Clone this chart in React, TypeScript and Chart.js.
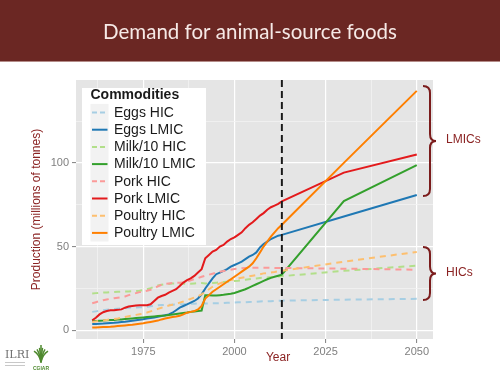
import React, { useEffect, useRef } from "react";
import { Chart, registerables } from "chart.js";

Chart.register(...registerables);

// ---------- data ----------
const TITLE = "Demand for animal-source foods";
const Y_TITLE = "Production (millions of tonnes)";
const X_TITLE = "Year";
const LEGEND_TITLE = "Commodities";

const historyStart = 1961;
const historyEnd = 2013;
const historyYears = Array.from({ length: historyEnd - historyStart + 1 }, (_, i) => historyStart + i);
const projectionYears = [2030, 2050];
const baseYear = 2013;

const seriesNames = [
  "Eggs HIC",
  "Eggs LMIC",
  "Milk/10 HIC",
  "Milk/10 LMIC",
  "Pork HIC",
  "Pork LMIC",
  "Poultry HIC",
  "Poultry LMIC",
];
const seriesColors = ["#a6cee3", "#1f78b4", "#b2df8a", "#33a02c", "#fb9a99", "#e31a1c", "#fdbf6f", "#ff7f00"];
const seriesDashed = [true, false, true, false, true, false, true, false];

const eggsHIC = [
  11.0, 11.3, 11.6, 12.0, 12.3, 12.5, 12.7, 12.9, 13.1, 13.3,
  13.5, 13.6, 13.6, 13.7, 13.8, 14.0, 14.3, 14.6, 14.9, 15.1,
  15.2, 15.2, 15.3, 15.4, 15.5, 15.6, 15.7, 15.8, 15.9, 16.0,
  16.0, 16.0, 16.0, 16.1, 16.1, 16.2, 16.3, 16.4, 16.5, 16.6,
  16.7, 16.8, 16.8, 16.9, 17.0, 17.1, 17.2, 17.3, 17.3, 17.4,
  17.5, 17.6, 17.7,
];
const eggsLMIC = [
  3.8, 3.8, 3.9, 4.0, 4.2, 4.4, 4.5, 4.7, 4.9, 5.1,
  5.4, 5.7, 6.0, 6.3, 6.6, 7.0, 7.3, 7.7, 8.1, 8.5,
  9.0, 9.5, 10.5, 12.0, 13.5, 14.5, 15.5, 16.5, 17.5, 19.0,
  21.5, 25.0, 28.0, 31.0, 33.5, 34.5, 35.5, 36.5, 38.0, 39.0,
  40.0, 41.0, 42.5, 44.0, 45.0, 46.5, 49.5, 51.5, 53.0, 54.5,
  55.5, 56.5, 57.0,
];
const milkHIC = [
  22.0, 22.2, 22.4, 22.5, 22.6, 22.8, 22.9, 23.0, 23.1, 23.2,
  23.2, 23.3, 23.4, 23.6, 24.0, 24.5, 25.2, 26.0, 26.8, 27.2,
  27.5, 27.7, 28.0, 28.0, 27.8, 27.8, 27.7, 27.8, 28.0, 28.2,
  28.2, 28.0, 28.0, 28.2, 28.4, 28.6, 28.8, 29.0, 29.2, 29.4,
  29.6, 29.9, 30.2, 30.5, 30.8, 31.0, 31.3, 31.5, 31.6, 31.8,
  32.0, 32.2, 32.3,
];
const milkLMIC = [
  5.5, 5.6, 5.7, 5.8, 6.0, 6.1, 6.2, 6.4, 6.5, 6.7,
  6.9, 7.1, 7.3, 7.5, 7.7, 7.9, 8.1, 8.3, 8.5, 8.7,
  8.9, 9.2, 9.4, 9.7, 10.0, 10.3, 10.6, 11.0, 11.2, 11.5,
  11.8, 21.0, 21.0, 20.8, 20.8, 21.0, 21.2, 21.5, 21.8, 22.3,
  23.0, 23.8, 24.5, 25.5, 26.5, 27.5, 28.5, 29.5, 30.5, 31.3,
  32.0, 32.6, 33.2,
];
const porkHIC = [
  16.2, 16.8, 17.4, 18.0, 18.4, 18.8, 19.2, 19.5, 19.8, 20.2,
  21.0, 21.6, 22.2, 22.8, 23.2, 23.6, 24.2, 25.2, 26.2, 27.2,
  27.8, 28.0, 28.2, 28.3, 28.4, 28.6, 29.0, 29.8, 30.6, 31.2,
  32.0, 32.6, 33.2, 33.8, 34.4, 35.0, 35.4, 35.8, 36.2, 36.6,
  36.8, 37.0, 37.2, 37.2, 37.3, 37.3, 37.4, 37.4, 37.3, 37.3,
  37.2, 37.2, 37.2,
];
const porkLMIC = [
  6.0, 7.5, 9.5, 10.8, 11.5, 12.0, 12.0, 12.2, 12.5, 13.5,
  14.2, 14.5, 14.8, 15.0, 15.0, 15.0, 15.5, 17.5, 19.5, 20.5,
  21.2, 22.5, 23.5, 24.5, 26.5, 28.5, 30.0, 31.0, 32.5, 34.5,
  36.5, 43.0, 45.0, 47.0, 48.0, 50.0, 51.0, 53.0, 54.5, 55.5,
  57.0, 58.5, 61.0, 63.0, 64.5, 66.5, 68.5, 70.0, 72.0, 73.5,
  74.5, 75.5, 77.0,
];
const poultryHIC = [
  5.0, 5.3, 5.6, 5.9, 6.2, 6.5, 6.8, 7.1, 7.5, 8.0,
  8.4, 8.8, 9.2, 9.6, 10.0, 10.6, 11.3, 12.0, 12.8, 13.5,
  14.2, 14.8, 15.3, 15.8, 16.5, 17.2, 18.0, 18.8, 19.6, 20.4,
  21.5, 23.0, 24.5, 26.0, 27.2, 28.0, 28.8, 29.5, 30.0, 30.5,
  31.0, 31.4, 31.8, 32.2, 32.6, 33.0, 33.5, 34.0, 34.2, 34.5,
  34.8, 35.2, 35.5,
];
const poultryLMIC = [
  1.6, 1.7, 1.8, 1.9, 2.0, 2.1, 2.3, 2.5, 2.7, 2.9,
  3.1, 3.3, 3.6, 3.9, 4.2, 4.6, 5.0, 5.4, 5.8, 6.5,
  7.0, 7.5, 8.0, 8.3, 8.7, 9.5, 10.5, 11.0, 11.5, 12.5,
  14.5, 19.0, 21.0, 23.0, 24.5, 26.0, 27.5, 29.0, 30.5, 32.0,
  33.5, 35.0, 36.5, 38.0, 40.0, 43.0, 46.5, 50.0, 53.0, 56.0,
  58.5, 61.0, 63.0,
];

// projections for 2030, 2050
const eggsHICProj = [18.3, 18.8];
const eggsLMICProj = [68.0, 80.8];
const milkHICProj = [35.5, 38.6];
const milkLMICProj = [77.2, 98.6];
const porkHICProj = [36.8, 36.2];
const porkLMICProj = [94.2, 105.0];
const poultryHICProj = [41.0, 46.8];
const poultryLMICProj = [100.0, 143.0];

const histories = [eggsHIC, eggsLMIC, milkHIC, milkLMIC, porkHIC, porkLMIC, poultryHIC, poultryLMIC];
const projections = [eggsHICProj, eggsLMICProj, milkHICProj, milkLMICProj, porkHICProj, porkLMICProj, poultryHICProj, poultryLMICProj];

const xMajorTicks = [1975, 2000, 2025, 2050];
const xAllTicks = [1962.5, 1975, 1987.5, 2000, 2012.5, 2025, 2037.5, 2050];
const yMajorTicks = [0, 50, 100];
const yAllTicks = [0, 25, 50, 75, 100, 125];

const groupLabels = ["LMICs", "HICs"];

// ---------- styling constants ----------
const DARK_RED = "#8b2323";
const PANEL = "#e5e5e5";

const decorPlugin = {
  id: "decor",
  beforeDraw(chart: any) {
    const { ctx, chartArea } = chart;
    ctx.save();
    ctx.fillStyle = "#ffffff";
    ctx.fillRect(0, 0, chart.width, chart.height);
    // title bar
    ctx.fillStyle = "#6b2723";
    ctx.fillRect(0, 0, chart.width, 62);
    ctx.fillStyle = "#b48c88";
    ctx.fillRect(0, 61, chart.width, 1);
    let size = 26;
    ctx.font = `${size}px Lato`;
    while (ctx.measureText(TITLE).width > 294 && size > 10) {
      size -= 0.5;
      ctx.font = `${size}px Lato`;
    }
    ctx.fillStyle = "#f6e9e6";
    ctx.textAlign = "center";
    ctx.textBaseline = "alphabetic";
    ctx.fillText(TITLE, 250, 38.5);
    // panel
    ctx.fillStyle = PANEL;
    ctx.fillRect(chartArea.left, chartArea.top, chartArea.right - chartArea.left, chartArea.bottom - chartArea.top);
    ctx.restore();
  },
  afterDatasetsDraw(chart: any) {
    const { ctx, chartArea, scales } = chart;
    const x = scales.x.getPixelForValue(baseYear);
    ctx.save();
    ctx.strokeStyle = "#1a1a1a";
    ctx.lineWidth = 2;
    ctx.setLineDash([7, 4]);
    ctx.beginPath();
    ctx.moveTo(x, chartArea.top);
    ctx.lineTo(x, chartArea.bottom);
    ctx.stroke();
    ctx.setLineDash([]);

    // legend
    const lx = 82, ly = 88, lw = 124, lh = 157;
    ctx.fillStyle = "#ffffff";
    ctx.fillRect(lx, ly, lw, lh);
    ctx.fillStyle = "#1a1a1a";
    ctx.font = "bold 14px 'Liberation Sans', Arial, sans-serif";
    ctx.textAlign = "left";
    ctx.textBaseline = "middle";
    ctx.fillText(LEGEND_TITLE, 90.5, 95);
    const step = 17.2;
    const y0 = 112.5;
    ctx.fillStyle = "#f2f2f2";
    ctx.fillRect(90.5, y0 - step / 2, 18, step * 8);
    chart.data.datasets.forEach((ds: any, i: number) => {
      const cy = y0 + i * step;
      ctx.strokeStyle = ds.borderColor;
      ctx.lineWidth = 2;
      ctx.setLineDash(ds.borderDash && ds.borderDash.length ? [5, 3] : []);
      ctx.beginPath();
      ctx.moveTo(92, cy);
      ctx.lineTo(107.5, cy);
      ctx.stroke();
      ctx.setLineDash([]);
      ctx.fillStyle = "#1a1a1a";
      ctx.font = "14px 'Liberation Sans', Arial, sans-serif";
      ctx.fillText(ds.label, 114, cy + 0.5);
    });

    // axis titles
    ctx.fillStyle = DARK_RED;
    ctx.font = "12px 'Liberation Sans', Arial, sans-serif";
    ctx.textAlign = "center";
    ctx.textBaseline = "middle";
    ctx.fillText(X_TITLE, 278, 358);
    ctx.save();
    ctx.translate(36.5, (chartArea.top + chartArea.bottom) / 2);
    ctx.rotate(-Math.PI / 2);
    ctx.fillText(Y_TITLE, 0, 0);
    ctx.restore();

    // braces
    const brace = (top: number, bottom: number, mid: number) => {
      ctx.beginPath();
      ctx.moveTo(423, top);
      ctx.quadraticCurveTo(430, top, 430, top + 7);
      ctx.lineTo(430, mid - 7);
      ctx.quadraticCurveTo(430, mid, 436, mid);
      ctx.quadraticCurveTo(430, mid, 430, mid + 7);
      ctx.lineTo(430, bottom - 7);
      ctx.quadraticCurveTo(430, bottom, 423, bottom);
      ctx.stroke();
    };
    ctx.strokeStyle = "#7b1c1c";
    ctx.lineWidth = 2;
    brace(86, 196, 141);
    brace(247, 300, 273.5);
    ctx.fillStyle = DARK_RED;
    ctx.textAlign = "left";
    ctx.font = "12px 'Liberation Sans', Arial, sans-serif";
    ctx.fillText(groupLabels[0], 446, 140);
    ctx.fillText(groupLabels[1], 446, 273);

    // logos
    ctx.fillStyle = "#707070";
    ctx.font = "11px 'DejaVu Serif', serif";
    ctx.textAlign = "left";
    ctx.textBaseline = "alphabetic";
    ctx.fillText("ILRI", 5, 358);
    ctx.fillStyle = "#c8c8c8";
    ctx.fillRect(5, 362, 20, 1);
    ctx.fillRect(5, 365, 20, 1);
    ctx.strokeStyle = "#4f8a2f";
    ctx.lineWidth = 1.5;
    const cx = 41;
    [-7, -4, -1.5, 1.5, 4, 7].forEach((dx) => {
      ctx.beginPath();
      ctx.moveTo(cx, 362);
      ctx.quadraticCurveTo(cx + dx * 0.3, 354, cx + dx, 347 + Math.abs(dx) * 0.6);
      ctx.stroke();
    });
    ctx.beginPath();
    ctx.moveTo(cx, 363);
    ctx.lineTo(cx, 345);
    ctx.stroke();
    ctx.fillStyle = "#4f8a2f";
    ctx.font = "bold 5px 'Liberation Sans', Arial, sans-serif";
    ctx.textAlign = "center";
    ctx.fillText("CGIAR", cx, 370);
    ctx.restore();
  },
};

export default function App() {
  const ref = useRef<HTMLCanvasElement | null>(null);
  useEffect(() => {
    if (!ref.current) return;
    const datasets = seriesNames.map((name, i) => {
      const pts = historyYears.map((yr, k) => ({ x: yr, y: histories[i][k] }));
      projectionYears.forEach((yr, k) => pts.push({ x: yr, y: projections[i][k] }));
      return {
        label: name,
        data: pts,
        borderColor: seriesColors[i],
        backgroundColor: seriesColors[i],
        borderWidth: 2,
        borderDash: seriesDashed[i] ? [6, 5] : [],
        pointRadius: 0,
        fill: false,
        tension: 0,
        order: seriesNames.length - 1 - i,
      };
    });
    const chart = new Chart(ref.current, {
      type: "line",
      data: { datasets } as any,
      options: {
        animation: false,
        responsive: false,
        devicePixelRatio: 1,
        layout: { padding: { left: 0, top: 80, right: 67, bottom: 0 } },
        plugins: { legend: { display: false }, tooltip: { enabled: false }, title: { display: false } },
        scales: {
          x: {
            type: "linear",
            min: 1956.55,
            max: 2054.45,
            afterFit: (s: any) => {
              s.height = 36;
            },
            afterBuildTicks: (s: any) => {
              s.ticks = xAllTicks.map((v) => ({ value: v }));
            },
            ticks: {
              autoSkip: false,
              maxRotation: 0,
              padding: 2,
              color: "#7f7f7f",
              font: { size: 11, family: "'Liberation Sans', Arial, sans-serif" },
              callback: (v: any) => (xMajorTicks.includes(Number(v)) ? String(v) : ""),
            },
            grid: {
              color: (c: any) => (c.tick && xMajorTicks.includes(c.tick.value) ? "#ffffff" : "#f2f2f2"),
              lineWidth: (c: any) => (c.tick && xMajorTicks.includes(c.tick.value) ? 1.2 : 0.8),
              tickColor: (c: any) => (c.tick && xMajorTicks.includes(c.tick.value) ? "#7f7f7f" : "rgba(0,0,0,0)"),
              tickLength: 4,
              tickWidth: 1,
            },
            border: { display: false },
          },
          y: {
            type: "linear",
            min: -5.2,
            max: 149.5,
            afterFit: (s: any) => {
              s.width = 76;
            },
            afterBuildTicks: (s: any) => {
              s.ticks = yAllTicks.map((v) => ({ value: v }));
            },
            ticks: {
              autoSkip: false,
              padding: 3,
              color: "#7f7f7f",
              font: { size: 11, family: "'Liberation Sans', Arial, sans-serif" },
              callback: (v: any) => (yMajorTicks.includes(Number(v)) ? String(v) : ""),
            },
            grid: {
              color: (c: any) => (c.tick && yMajorTicks.includes(c.tick.value) ? "#ffffff" : "#f2f2f2"),
              lineWidth: (c: any) => (c.tick && yMajorTicks.includes(c.tick.value) ? 1.2 : 0.8),
              tickColor: (c: any) => (c.tick && yMajorTicks.includes(c.tick.value) ? "#7f7f7f" : "rgba(0,0,0,0)"),
              tickLength: 4,
              tickWidth: 1,
            },
            border: { display: false },
          },
        },
      } as any,
      plugins: [decorPlugin],
    });
    return () => chart.destroy();
  }, []);
  return (
    <div style={{ position: "fixed", left: 0, top: 0, width: 500, height: 375 }}>
      <canvas ref={ref} width={500} height={375} style={{ width: 500, height: 375, display: "block" }} />
    </div>
  );
}
